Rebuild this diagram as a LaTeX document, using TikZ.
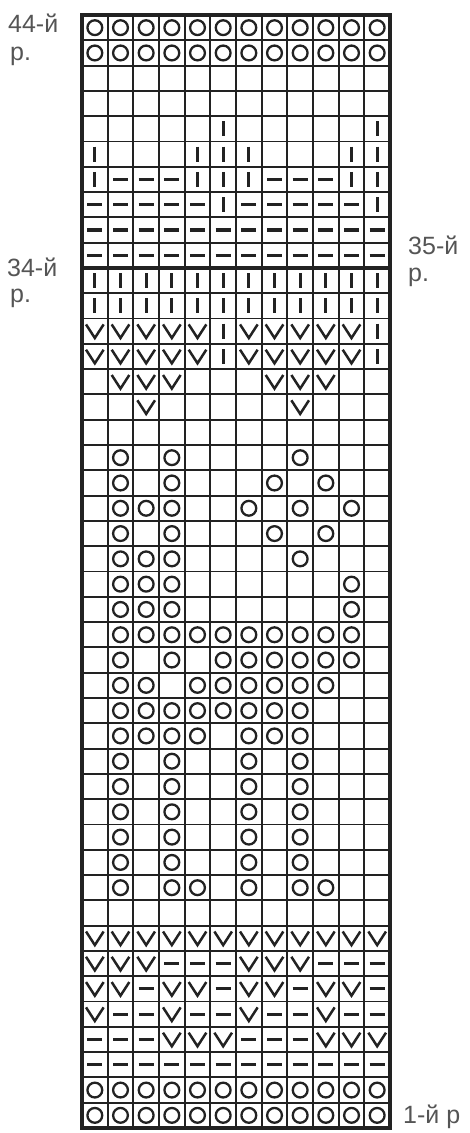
\documentclass[tikz,border=0pt]{standalone}
\usepackage{fontspec}
\setmainfont{Liberation Sans}
\definecolor{ink}{HTML}{222222}
\definecolor{txt}{HTML}{555555}
\tikzset{
  gridline/.style={draw=ink, line width=1.9pt},
  border/.style={draw=ink, line width=4pt},
  sym/.style={draw=ink, line width=2.3pt},
  lbl/.style={text=txt, font=\fontsize{25}{25}\selectfont, inner sep=0pt, anchor=base west},
  pics/ocirc/.style={code={\draw[sym] (0,0) circle (7.4pt);}},
  pics/vmark/.style={code={\draw[sym, line width=2.5pt, line join=miter] (-8.8,-6.8) -- (0,6.8) -- (8.8,-6.8);}},
  pics/barmark/.style={code={\draw[sym, line width=3.2pt] (0,-7.5) -- (0,7.5);}},
  pics/dashmark/.style={code={\draw[sym, line width=3.2pt] (-7.5,0) -- (7.5,0);}},
}
\begin{document}
\begin{tikzpicture}[x=1pt,y=-1pt]
\useasboundingbox (0,0) rectangle (469,1133);
% grid
\foreach \k in {0,...,44} \draw[gridline] (82,{15+\k*25.295}) -- (390,{15+\k*25.295});
\foreach \k in {0,...,12} \draw[gridline] ({82+\k*25.667},15) -- ({82+\k*25.667},1128);
\draw[border, line width=3.2pt] (82,267.97) -- (390,267.97);
\draw[border] (82,15) rectangle (390,1128);
% circles (yarn over)
\foreach \r/\cs in {44/{1,...,12},43/{1,...,12},27/{2,4,9},26/{2,4,8,10},25/{2,3,4,7,9,11},
  24/{2,4,8,10},23/{2,3,4,9},22/{2,3,4,11},21/{2,3,4,11},20/{2,...,11},
  19/{2,4,6,7,8,9,10,11},18/{2,3,5,6,7,8,9,10},17/{2,...,9},16/{2,3,4,5,7,8,9},
  15/{2,4,7,9},14/{2,4,7,9},13/{2,4,7,9},12/{2,4,7,9},11/{2,4,7,9},
  10/{2,4,5,7,9,10},2/{1,...,12},1/{1,...,12}}{
  \pgfmathsetmacro\yy{1128-(\r-0.5)*25.295}
  \foreach \c in \cs {\pgfmathsetmacro\xx{82+(\c-0.5)*25.667}\pic at (\xx,\yy) {ocirc};}
}
% V marks
\foreach \r/\cs in {32/{1,2,3,4,5,7,8,9,10,11},31/{1,2,3,4,5,7,8,9,10,11},30/{2,3,4,8,9,10},
  29/{3,9},8/{1,...,12},7/{1,2,3,7,8,9},6/{1,2,4,5,7,8,10,11},5/{1,4,7,10},4/{4,5,6,10,11,12}}{
  \pgfmathsetmacro\yy{1128-(\r-0.5)*25.295}
  \foreach \c in \cs {\pgfmathsetmacro\xx{82+(\c-0.5)*25.667}\pic at (\xx,\yy) {vmark};}
}
% vertical bars
\foreach \r/\cs in {40/{6,12},39/{1,5,6,7,11,12},38/{1,5,6,7,11,12},37/{6,12},
  34/{1,...,12},33/{1,...,12},32/{6,12},31/{6,12}}{
  \pgfmathsetmacro\yy{1128-(\r-0.5)*25.295}
  \foreach \c in \cs {\pgfmathsetmacro\xx{82+(\c-0.5)*25.667}\pic at (\xx,\yy) {barmark};}
}
% dashes
\foreach \r/\cs in {38/{2,3,4,8,9,10},37/{1,2,3,4,5,7,8,9,10,11},36/{1,...,12},35/{1,...,12},
  7/{4,5,6,10,11,12},6/{3,6,9,12},5/{2,3,5,6,8,9,11,12},4/{1,2,3,7,8,9},3/{1,...,12}}{
  \pgfmathsetmacro\yy{1128-(\r-0.5)*25.295}
  \foreach \c in \cs {\pgfmathsetmacro\xx{82+(\c-0.5)*25.667}\pic at (\xx,\yy) {dashmark};}
}
% labels
\node[lbl] (l44) at (8,32) {44-й};
\node[lbl] (l44p) at (10,60) {р.};
\node[lbl] (l34) at (7,276) {34-й};
\node[lbl] (l34p) at (10,302) {р.};
\node[lbl] (l35) at (408,254) {35-й};
\node[lbl] (l35p) at (408,281) {р.};
\node[lbl] (l1) at (403,1123) {1-й р};
\end{tikzpicture}
\end{document}
